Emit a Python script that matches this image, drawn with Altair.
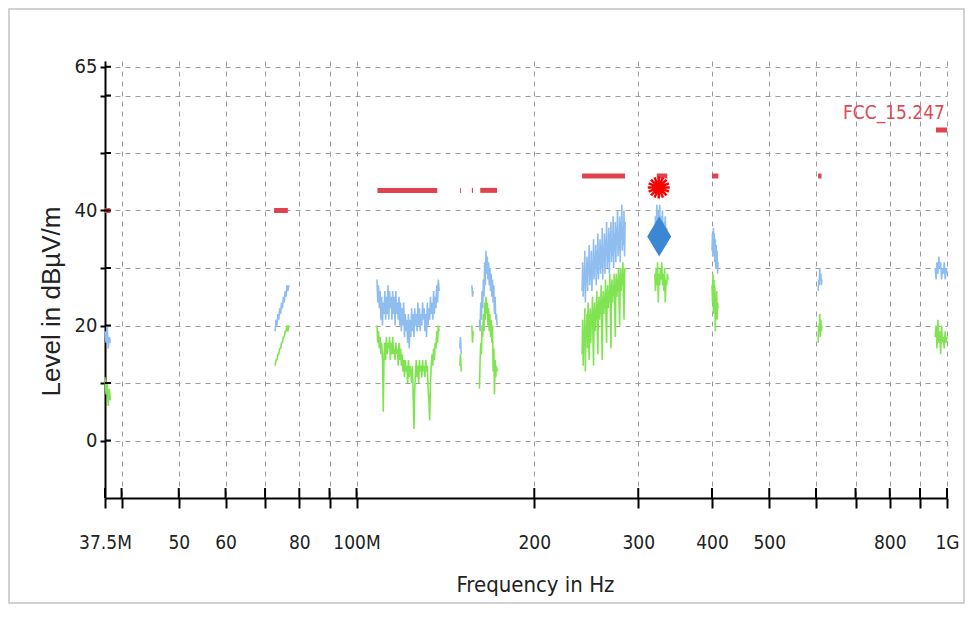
import altair as alt
import numpy as np
import pandas as pd

NARROW = "Liberation Sans Narrow, Arial Narrow, DejaVu Sans Condensed, sans-serif"
REGULAR = "Liberation Sans, Arial, DejaVu Sans, sans-serif"

# ---------------- measured trace segments (frequency in MHz) ----------------
seg_ids   = ["A", "B", "C", "C2", "C3", "D", "E", "F", "G", "H", "I"]
seg_start = [37.5, 72.8, 108.3, 149.6, 156.8, 161.5, 241.0, 320.0, 400.0, 605.0, 955.0]
seg_end   = [38.3, 76.8, 138.0, 150.4, 157.6, 173.0, 285.0, 337.0, 409.5, 614.0, 1000.0]

# Peak (light blue) levels, dBuV/m
peak_A = [19, 17, 20, 16, 18, 17]
peak_B = [19, 21, 20, 22, 21, 23, 22, 24, 23, 25, 24, 26, 25, 27, 26, 27]
peak_C = [28, 24, 27, 23, 26, 21, 25, 20, 24, 22, 26, 21, 25, 22, 27, 21, 26, 23, 25, 21,
          26, 22, 25, 20, 26, 22, 24, 21, 25, 20, 24, 19, 23, 20, 24, 18, 22, 19, 21, 17,
          22, 16, 21, 18, 23, 19, 22, 18, 23, 20, 22, 19, 24, 20, 23, 19, 22, 20, 24, 21,
          23, 19, 22, 18, 24, 20, 23, 21, 25, 22, 24, 21, 26, 22, 25, 23, 27, 24, 28, 26]
peak_C2 = [16, 18, 15]
peak_C3 = [27, 25, 26]
peak_D = [21, 19, 24, 21, 26, 23, 28, 25, 31, 27, 33, 29, 32, 28, 31, 27, 30, 26, 29, 25,
          28, 24, 27, 22, 25, 21, 22, 20]
peak_E = [26, 31, 25, 29, 27, 33, 24, 30, 28, 32, 26, 31, 29, 34, 27, 30, 28, 33, 26, 31,
          29, 35, 28, 32, 30, 34, 27, 33, 29, 36, 28, 32, 31, 35, 29, 34, 30, 37, 28, 33,
          31, 36, 29, 35, 32, 38, 30, 34, 31, 37, 29, 36, 33, 38, 31, 35, 32, 39, 30, 36,
          33, 38, 31, 37, 34, 40, 32, 36, 33, 39, 31, 38, 35, 41, 33, 37, 34, 40, 32, 38]
peak_F = [35, 39, 36, 41, 37, 40, 38, 41, 36, 39, 37, 40, 35, 38, 36, 39, 34, 37, 35, 36]
peak_G = [33, 36, 32, 37, 34, 36, 31, 35, 30, 34, 31, 33, 29, 31]
peak_H = [26, 28, 27, 30, 28, 29, 27, 28]
peak_I = [30, 28, 31, 29, 32, 30, 31, 28, 30, 29, 31, 28, 30, 29]

# Average (green) levels, dBuV/m
avg_A = [11, 8, 10, 6, 9, 7]
avg_B = [13, 14, 14, 15, 15, 16, 16, 17, 17, 18, 18, 19, 19, 20, 19, 20]
avg_C = [20, 17, 19, 16, 18, 15, 17, 14, 5, 15, 17, 14, 18, 15, 17, 16, 18, 14, 17, 15,
         18, 15, 16, 14, 17, 15, 16, 13, 17, 14, 16, 13, 15, 12, 14, 11, 14, 12, 13, 10,
         14, 11, 13, 12, 10, 13, 8, 2, 9, 12, 14, 11, 13, 10, 14, 12, 13, 11, 14, 12,
         13, 11, 14, 12, 13, 9, 7, 3.5, 10, 13, 15, 13, 16, 14, 17, 16, 19, 17, 20, 19]
avg_C2 = [13, 15, 12]
avg_C3 = [20, 17, 19]
avg_D = [9, 14, 17, 15, 20, 18, 22, 19, 24, 21, 25, 22, 24, 20, 23, 19, 22, 18, 21, 17,
         20, 12, 16, 8, 14, 11, 13, 12]
avg_E = [15, 21, 13, 19, 17, 23, 12, 20, 18, 22, 16, 24, 19, 14, 21, 23, 17, 22, 20, 25,
         18, 13, 22, 24, 19, 23, 21, 26, 20, 15, 23, 25, 21, 24, 22, 27, 19, 14, 24, 26,
         22, 25, 23, 28, 21, 17, 25, 27, 23, 26, 24, 29, 22, 16, 26, 28, 24, 27, 25, 29,
         23, 18, 27, 29, 25, 28, 26, 30, 24, 20, 28, 30, 26, 29, 27, 31, 25, 21, 29, 30]
avg_F = [29, 26, 30, 27, 31, 24, 29, 27, 30, 28, 31, 27, 29, 26, 30, 24, 28, 27, 29, 28]
avg_G = [27, 24, 29, 22, 28, 25, 27, 19, 25, 22, 26, 21, 24, 23]
avg_H = [17, 20, 19, 22, 18, 21, 19, 20]
avg_I = [18, 20, 16, 21, 17, 19, 15, 20, 17, 18, 16, 19, 17, 18]

peak_values = [peak_A, peak_B, peak_C, peak_C2, peak_C3, peak_D, peak_E, peak_F, peak_G, peak_H, peak_I]
avg_values = [avg_A, avg_B, avg_C, avg_C2, avg_C3, avg_D, avg_E, avg_F, avg_G, avg_H, avg_I]

# FCC_15.247 limit segments
limit_start = [37.5, 72.5, 108.5, 149.8, 156.8, 162.0, 241.0, 322.5, 400.0, 605.0, 958.0]
limit_end   = [38.3, 76.5, 137.0, 150.3, 157.5, 173.0, 285.0, 336.0, 410.0, 613.0, 1000.0]
limit_level = [40, 40, 43.5, 43.5, 43.5, 43.5, 46, 46, 46, 46, 54]

# Final measurement markers
star_freq, star_level = [325.0], [44.0]
diamond_freq, diamond_level = [325.5], [35.5]

# Axes
x_ticks = [37.5, 40, 50, 60, 70, 80, 90, 100, 200, 300, 400, 500, 600, 700, 800, 900, 1000]
x_tick_labels = ["37.5M", "", "50", "60", "", "80", "", "100M", "200", "300", "400", "500",
                 "", "", "800", "", "1G"]
y_ticks = [0, 10, 20, 30, 40, 50, 60, 65]
y_tick_labels = ["0", "", "20", "", "40", "", "", "65"]

limit_label = "FCC_15.247"

# ---------------- build tables ----------------
def trace_frame(values_list):
    rows = []
    for sid, s, e, vals in zip(seg_ids, seg_start, seg_end, values_list):
        for f, v in zip(np.geomspace(s, e, len(vals)), vals):
            rows.append({"freq": float(f), "level": v, "seg": sid})
    return pd.DataFrame(rows)

peak_df = trace_frame(peak_values)
avg_df = trace_frame(avg_values)
lim_rows = []
for i, (s, e, l) in enumerate(zip(limit_start, limit_end, limit_level)):
    lim_rows.append({"freq": s, "level": l, "seg": f"L{i}"})
    lim_rows.append({"freq": e, "level": l, "seg": f"L{i}"})
lim_df = pd.DataFrame(lim_rows)

def expr(vals, labels):
    parts = [f"datum.value == {v} ? '{l}'" for v, l in zip(vals, labels)]
    return " : ".join(parts) + " : ''"

W, H = 842, 437

x_scale = alt.Scale(type="log", domain=[37.5, 1000], nice=False, zero=False)
y_scale = alt.Scale(domain=[-10, 66], nice=False, zero=False)

x_axis = alt.Axis(values=x_ticks, labelExpr=expr(x_ticks, x_tick_labels), title="Frequency in Hz",
                  grid=True, gridColor="#9a9a9a", gridDash=[5, 5], gridWidth=1,
                  domainColor="black", domainWidth=2, tickColor="black", tickWidth=2, tickSize=10,
                  labelPadding=25, labelFont=NARROW, labelFontSize=19, labelColor="#222222",
                  labelFlush=False, labelOverlap=False,
                  titleFont=NARROW, titleFontSize=22, titleFontWeight="normal", titleColor="#222222",
                  titlePadding=22, titleX=430)
y_axis = alt.Axis(values=y_ticks, labelExpr=expr(y_ticks, y_tick_labels), title="Level in dBµV/m",
                  grid=True, gridColor="#9a9a9a", gridDash=[5, 5], gridWidth=1,
                  domainColor="black", domainWidth=2, tickColor="black", tickWidth=2, tickSize=5,
                  labelPadding=3, labelFont=NARROW, labelFontSize=20, labelColor="#222222",
                  labelFlush=False, labelOverlap=False,
                  titleFont=REGULAR, titleFontSize=26, titleFontWeight="normal", titleColor="#222222",
                  titlePadding=10, titleY=240)

X = alt.X("freq:Q", scale=x_scale, axis=x_axis)
Y = alt.Y("level:Q", scale=y_scale, axis=y_axis)

border = alt.Chart(pd.DataFrame({"a": [0]})).mark_rect(
    fillOpacity=0, stroke="#c4c4c4", strokeWidth=1.5
).encode(x=alt.value(-96), x2=alt.value(W + 17), y=alt.value(-52), y2=alt.value(H + 105))

peak = alt.Chart(peak_df).mark_line(color="#8fbdf0", strokeWidth=1.6, strokeJoin="bevel").encode(
    x=X, y=Y, detail="seg:N")
avg = alt.Chart(avg_df).mark_line(color="#80e452", strokeWidth=1.6, strokeJoin="bevel").encode(
    x=X, y=Y, detail="seg:N")
limit = alt.Chart(lim_df).mark_line(color="#e0424f", strokeWidth=5, strokeCap="butt").encode(
    x=X, y=Y, detail="seg:N")

diamond = alt.Chart(pd.DataFrame({"freq": diamond_freq, "level": diamond_level})).mark_point(
    shape="M0,-1L0.6,0L0,1L-0.6,0Z", filled=True, color="#3b87d4", opacity=1, size=1600
).encode(x=X, y=Y)

ast_path = ("M-1,0L1,0M0,-1L0,1M-0.71,-0.71L0.71,0.71M-0.71,0.71L0.71,-0.71"
            "M-0.92,-0.38L0.92,0.38M-0.92,0.38L0.92,-0.38M-0.38,-0.92L0.38,0.92M-0.38,0.92L0.38,-0.92")
star_df = pd.DataFrame({"freq": star_freq, "level": star_level})
star = alt.Chart(star_df).mark_point(
    shape=ast_path, filled=False, color="#ff0000", strokeWidth=2.5, opacity=1, size=484
).encode(x=X, y=Y)
star_core = alt.Chart(star_df).mark_point(
    shape="circle", filled=True, color="#ff0000", opacity=1, size=90
).encode(x=X, y=Y)

label = alt.Chart(pd.DataFrame({"freq": [1000.0], "level": [57.0], "t": [limit_label]})).mark_text(
    align="right", baseline="middle", dx=-2, font=NARROW, fontSize=19, color="#dc4a55"
).encode(x=X, y=Y, text="t:N")

yt_in = alt.Chart(pd.DataFrame({"level": y_ticks})).mark_rule(color="black", strokeWidth=2).encode(
    y=Y, x=alt.value(0), x2=alt.value(6))
xt_in = alt.Chart(pd.DataFrame({"freq": x_ticks})).mark_rule(color="black", strokeWidth=2).encode(
    x=X, y=alt.value(H), y2=alt.value(H - 10))

chart = alt.layer(border, peak, avg, limit, diamond, star, star_core, label, yt_in, xt_in).properties(
    width=W, height=H,
    autosize=alt.AutoSizeParams(type="none"),
    padding={"left": 97, "top": 53, "right": 19, "bottom": 108},
    background="white",
).configure_view(stroke=None)

chart.save("out.html", embed_options={"renderer": "svg", "actions": False})
